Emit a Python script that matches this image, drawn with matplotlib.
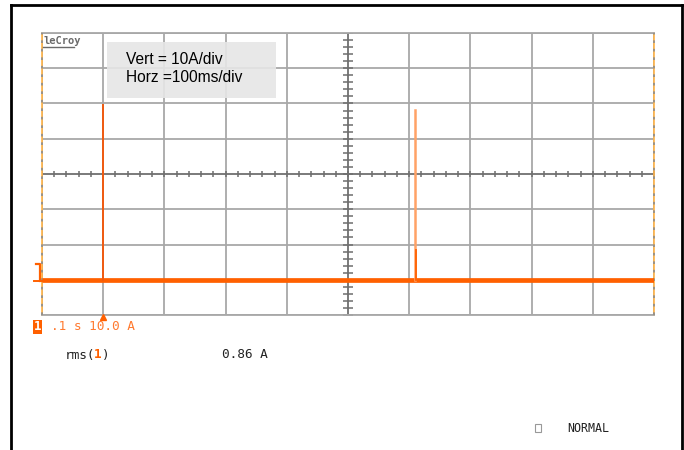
import matplotlib
matplotlib.use("Agg")
import matplotlib.pyplot as plt
import numpy as np

# ---- data ----
time_per_div = 0.1          # s/div
amp_per_div = 10.0          # A/div
n_xdiv, n_ydiv = 10, 8
offset_divs = -3            # zero level of trace 1, in divisions below center
baseline_current = 0.0      # A
spike1_time = 0.1           # s
spike1_peak = 49.6          # A
spike2_time = 0.609         # s
spike2_peak = 48.2          # A
spike2_step = 8.5           # A
rms_text = "0.86 A"

trace_t = [0.0, 1.0]
trace_i = [baseline_current, baseline_current]

ORANGE = "#ff6000"
GRID = "#a8a8a8"
AXC = "#6e6e6e"

fig = plt.figure(figsize=(6.84, 4.5), dpi=100)
fig.patch.set_facecolor("white")

def fx(px):
    return px / 684

def fy(py):
    return 1 - py / 450

# black frame
fig.add_artist(plt.Line2D([fx(11), fx(11)], [0, fy(5)], transform=fig.transFigure, color="black", lw=2))
fig.add_artist(plt.Line2D([fx(11), fx(682)], [fy(5), fy(5)], transform=fig.transFigure, color="black", lw=2))
fig.add_artist(plt.Line2D([fx(682), fx(682)], [0, fy(5)], transform=fig.transFigure, color="black", lw=2))

ax = fig.add_axes([fx(42), fy(315), 612 / 684, 282 / 450])
center_y = -offset_divs * amp_per_div
ylo = center_y - n_ydiv / 2 * amp_per_div
yhi = center_y + n_ydiv / 2 * amp_per_div
xlo, xhi = 0.0, n_xdiv * time_per_div
ax.set_xlim(xlo, xhi)
ax.set_ylim(ylo, yhi)
ax.set_xticks(np.arange(0, n_xdiv + 1) * time_per_div)
ax.set_yticks(ylo + np.arange(0, n_ydiv + 1) * amp_per_div)
ax.tick_params(length=0, labelbottom=False, labelleft=False)
ax.grid(True, color=GRID, lw=1.3)
for s in ["top", "bottom"]:
    ax.spines[s].set_color(GRID)
    ax.spines[s].set_linewidth(1.3)
for s in ["left", "right"]:
    ax.spines[s].set_color("#ffb347")
    ax.spines[s].set_linewidth(1.2)

cx = (xlo + xhi) / 2
# center axes with minor ticks
ax.axhline(center_y, color=AXC, lw=1.1, zorder=2)
ax.axvline(cx, color=AXC, lw=1.1, zorder=2)
mx = np.arange(0, n_xdiv * 5 + 1) * time_per_div / 5
my = ylo + np.arange(0, n_ydiv * 5 + 1) * amp_per_div / 5
ax.plot(mx, np.full_like(mx, center_y), ls="none", marker="|", ms=4, mew=1.1, color=AXC, zorder=2)
ax.plot(np.full_like(my, cx), my, ls="none", marker="_", ms=7, mew=1.1, color=AXC, zorder=2)
# grey dashes on left/right borders
for xe in (xlo, xhi):
    ax.axvline(xe, color="#8c8c8c", lw=1.2, dashes=(1.6, 3.5), zorder=3, clip_on=False)

# trace
ax.plot(trace_t, trace_i, color=ORANGE, lw=3.4, zorder=4, solid_capstyle="butt")
ax.plot([spike1_time, spike1_time], [baseline_current, spike1_peak], color="#f05a10", lw=1.4, zorder=4)
ax.plot([spike2_time, spike2_time], [baseline_current, spike2_peak], color="#ffa266", lw=1.8, zorder=4)
ax.plot([spike2_time + 0.002, spike2_time + 0.002], [baseline_current, spike2_step], color=ORANGE, lw=1.3, zorder=5)

# info box
fig.patches.append(plt.Rectangle((fx(107), fy(98)), 169 / 684, 56 / 450, transform=fig.transFigure,
                                 facecolor="#e6e6e6", edgecolor="none", alpha=0.9, zorder=5))
fig.text(fx(126), fy(59), "Vert = 10A/div", fontsize=11.2, family="Liberation Sans", va="center", zorder=6)
fig.text(fx(126), fy(78), "Horz =100ms/div", fontsize=11.2, family="Liberation Sans", va="center", zorder=6)

# LeCroy logo
fig.text(fx(43), fy(41), "leCroy", fontsize=7.5, family="DejaVu Sans Mono", weight="bold", color="#6a6a6a", va="center")
fig.add_artist(plt.Line2D([fx(43), fx(74)], [fy(47), fy(47)], transform=fig.transFigure, color="#6a6a6a", lw=1))

# channel marker on left
fig.add_artist(plt.Line2D([fx(36), fx(40), fx(40)], [fy(264), fy(264), fy(281)],
                          transform=fig.transFigure, color=ORANGE, lw=1.6))
fig.add_artist(plt.Line2D([fx(34), fx(44)], [fy(281), fy(281)], transform=fig.transFigure, color=ORANGE, lw=1.4))
# trigger marker
ax.plot([spike1_time], [ylo], marker="^", ms=4, color=ORANGE, clip_on=False, zorder=6,
        transform=ax.transData + matplotlib.transforms.ScaledTranslation(0, -2 / 100, fig.dpi_scale_trans))

mono = "DejaVu Sans Mono"
fig.patches.append(plt.Rectangle((fx(33), fy(334)), 9 / 684, 14 / 450, transform=fig.transFigure,
                                 facecolor=ORANGE, edgecolor="none"))
fig.text(fx(37.5), fy(327), "1", fontsize=9, family=mono, weight="bold", color="white", ha="center", va="center")
fig.text(fx(51), fy(327), ".1 s 10.0 A", fontsize=9.2, family=mono, color="#ff7a30", va="center")
fig.text(fx(65), fy(355), "rms(", fontsize=9.2, family=mono, color="#222222", va="center")
fig.text(fx(94.3), fy(355), "1", fontsize=9.2, family=mono, weight="bold", color=ORANGE, va="center")
fig.text(fx(102), fy(355), ")", fontsize=9.2, family=mono, color="#222222", va="center")
fig.text(fx(222), fy(355), rms_text, fontsize=9.2, family=mono, color="#222222", va="center")
fig.patches.append(plt.Rectangle((fx(535), fy(432)), 6 / 684, 8 / 450, transform=fig.transFigure,
                                 facecolor="none", edgecolor="#999999", lw=0.8))
fig.text(fx(567), fy(429), "NORMAL", fontsize=8.4, family=mono, color="#222222", va="center")

fig.savefig("out.png", dpi=100)
